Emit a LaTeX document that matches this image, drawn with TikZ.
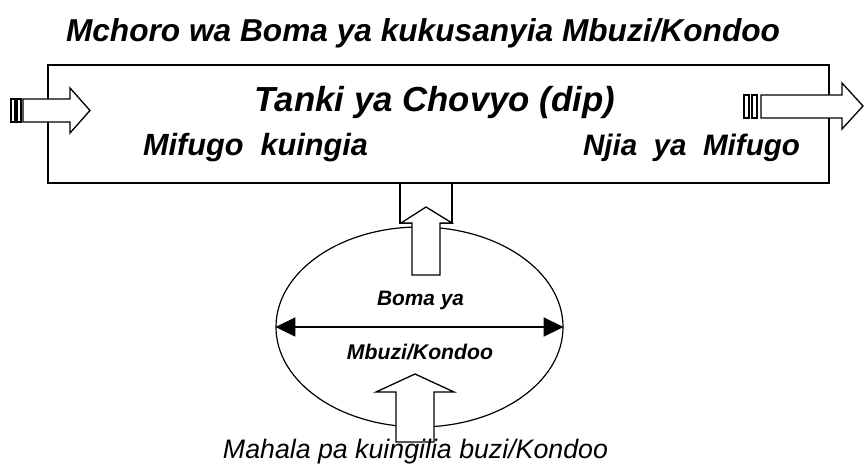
\documentclass[tikz,border=0pt]{standalone}
\usepackage{fontspec}
\setmainfont{Liberation Sans}
\usepackage{graphicx}
\usetikzlibrary{shapes.geometric,arrows.meta}
\tikzset{
  frame/.style={draw, line width=1.4pt},
  blockarrow/.style={draw, fill=white, line width=1.3pt, line join=miter},
  txt/.style={anchor=base, inner sep=0pt, outer sep=0pt},
}
\newcommand{\fitbi}[3]{\resizebox{#1pt}{!}{\fontsize{#2pt}{#2pt}\selectfont\bfseries\itshape #3}}
\newcommand{\fiti}[3]{\resizebox{#1pt}{!}{\fontsize{#2pt}{#2pt}\selectfont\itshape #3}}
\begin{document}
\begin{tikzpicture}[x=1pt,y=-1pt]
\useasboundingbox (0,0) rectangle (864,468);
% tank
\node[frame, minimum width=781pt, minimum height=118pt, inner sep=0pt] (tank) at (438.5,124) {};
% box below tank
\draw[line width=1.3pt] (400,183) rectangle (452,223);
% ellipse
\node[ellipse, draw, line width=1.2pt, minimum width=287pt, minimum height=200pt, inner sep=0pt] (boma) at (419.5,327) {};
% double arrow across the ellipse
\draw[line width=1.5pt, {Triangle[length=20pt,width=19pt]}-{Triangle[length=20pt,width=19pt]}] (boma.west) -- (boma.east);
% left entry arrow
\draw[blockarrow] (23,99)--(70,99)--(70,88)--(90,110.5)--(70,133)--(70,122)--(23,122)--cycle;
\draw[blockarrow] (11,99) rectangle (15,122);
\draw[blockarrow] (17,99) rectangle (21,122);
% right exit arrow
\draw[blockarrow] (761,95)--(842,95)--(842,83)--(863,106)--(842,129)--(842,118)--(761,118)--cycle;
\draw[blockarrow] (744,95) rectangle (749,118);
\draw[blockarrow] (752,95) rectangle (757,118);
% up arrow from boma to tank
\draw[blockarrow] (426,207)--(452,223)--(440,223)--(440,275)--(412,275)--(412,223)--(401,223)--cycle;
% up arrow into boma
\draw[blockarrow] (415,374)--(454,392)--(434,392)--(434,442)--(396,442)--(396,392)--(376,392)--cycle;
% texts
\node[txt] (t1) at (423,42) {\fitbi{714}{31}{Mchoro wa Boma ya kukusanyia Mbuzi/Kondoo}};
\node[txt] (t2) at (435,112) {\fitbi{360}{35}{Tanki ya Chovyo (dip)}};
\node[txt] (t3) at (255.5,155) {\fitbi{225}{30}{Mifugo\ \ kuingia}};
\node[txt] (t4) at (691.5,155) {\fitbi{217}{30}{Njia\ \ ya\ \ Mifugo}};
\node[txt] (t5) at (420.5,305) {\fitbi{87}{21}{Boma ya}};
\node[txt] (t6) at (420,359) {\fitbi{146}{21}{Mbuzi/Kondoo}};
\node[txt] (t7) at (415.5,458) {\fiti{385}{26.5}{Mahala pa kuingilia buzi/Kondoo}};
\end{tikzpicture}
\end{document}
